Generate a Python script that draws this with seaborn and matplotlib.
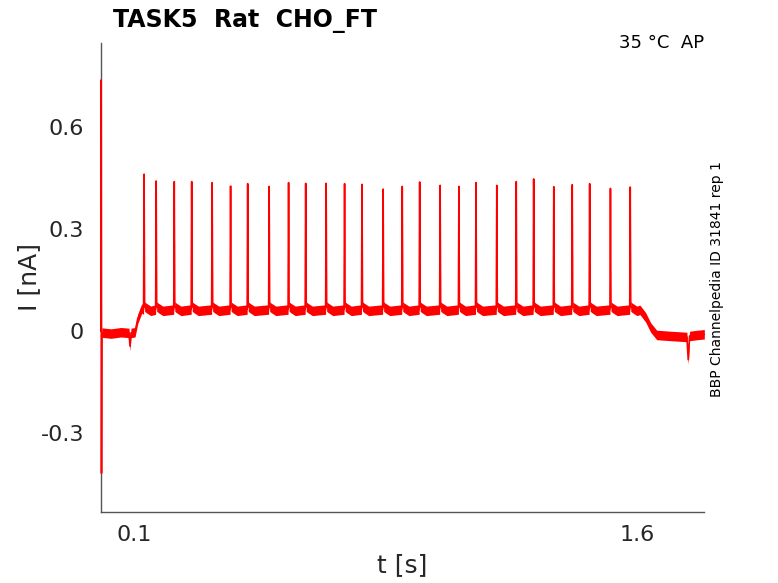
import numpy as np
import pandas as pd
import matplotlib
matplotlib.use("Agg")
import matplotlib.pyplot as plt
import seaborn as sns

# ---- data ----
# slow (non-spiking) part of the current trace: time [s], current [nA]
base_t = [0.000, 0.0010, 0.0020, 0.0030, 0.030, 0.060, 0.084, 0.087, 0.090, 0.102,
          0.110, 0.122, 1.608, 1.625, 1.640, 1.658, 1.700, 1.748, 1.752, 1.756, 1.780, 1.800]
base_i = [0.000, 0.740, -0.420, -0.005, -0.008, -0.004, -0.006, -0.045, -0.006, -0.004,
          0.035, 0.066, 0.062, 0.040, 0.010, -0.012, -0.015, -0.018, -0.085, -0.015, -0.012, -0.010]

# action current spikes: times [s] and peak currents [nA]
spike_t = [0.129, 0.165, 0.219, 0.271, 0.332, 0.387, 0.438, 0.502, 0.560, 0.611,
           0.672, 0.727, 0.779, 0.842, 0.899, 0.951, 1.012, 1.068, 1.119, 1.181,
           1.239, 1.291, 1.351, 1.406, 1.458, 1.520, 1.579]
spike_peak = [0.462, 0.442, 0.440, 0.440, 0.437, 0.427, 0.434, 0.426, 0.437, 0.435,
              0.435, 0.434, 0.432, 0.418, 0.426, 0.439, 0.429, 0.426, 0.437, 0.429,
              0.440, 0.448, 0.425, 0.431, 0.434, 0.420, 0.424]
plateau_level = 0.063      # holding level between spikes [nA]
after_bump = 0.072         # level right after each spike [nA]
noise_halfwidth = 0.014    # recording noise band [nA]

xticks = [0.1, 1.6]
yticks = [-0.3, 0.0, 0.3, 0.6]
ytick_labels = ["-0.3", "0", "0.3", "0.6"]

# ---- assemble trace ----
t_pts = list(base_t)
i_pts = list(base_i)
for st, sp in zip(spike_t, spike_peak):
    t_pts += [st - 0.0015, st, st + 0.0015, st + 0.006, st + 0.02]
    i_pts += [plateau_level, sp, after_bump, after_bump - 0.004, plateau_level - 0.004]
df = pd.DataFrame({"t": t_pts, "I": i_pts}).sort_values("t").reset_index(drop=True)

# ---- plot ----
sns.set_style("white")
plt.rcParams["font.family"] = ["DejaVu Sans"]

fig = plt.figure(figsize=(7.78, 5.83), dpi=100)
ax = fig.add_axes([0.1296, 0.1213, 0.7757, 0.8055])

ax.fill_between(df["t"], df["I"] - noise_halfwidth, df["I"] + noise_halfwidth,
                color="#ff0000", linewidth=0, zorder=2)
sns.lineplot(data=df, x="t", y="I", color="#ff0000", linewidth=1.2,
             estimator=None, sort=True, ax=ax, zorder=4, clip_on=False)

ax.set_xlim(0, 1.80)
ax.set_ylim(-0.535, 0.85)
ax.set_xticks(xticks)
ax.set_xticklabels([str(x) for x in xticks])
ax.set_yticks(yticks)
ax.set_yticklabels(ytick_labels)

for s in ["top", "right"]:
    ax.spines[s].set_visible(False)
for s in ["left", "bottom"]:
    ax.spines[s].set_color("#555555")
    ax.spines[s].set_linewidth(1.0)
    ax.spines[s].set_zorder(1)

ax.tick_params(axis="both", direction="in", length=4.5, width=0.8,
               colors="#555555", labelcolor="#262626", labelsize=16)
ax.tick_params(axis="x", pad=9)
ax.tick_params(axis="y", pad=12)

ax.set_xlabel("t [s]", fontsize=18, color="#262626", labelpad=6)
ax.set_ylabel("I [nA]", fontsize=18, color="#262626", labelpad=0)

fig.text(113 / 778, 1 - 27 / 583, "TASK5  Rat  CHO_FT", fontsize=17,
         fontweight="bold", color="black", ha="left", va="baseline")
ax.text(1.0, 0.988, "35 °C  AP", transform=ax.transAxes, fontsize=13,
        color="black", ha="right", va="baseline")
fig.text(717 / 778, 1 - 279 / 583, "BBP Channelpedia ID 31841 rep 1",
         fontsize=10, rotation=90, ha="center", va="center", color="black")

fig.savefig("out.png", dpi=100)
